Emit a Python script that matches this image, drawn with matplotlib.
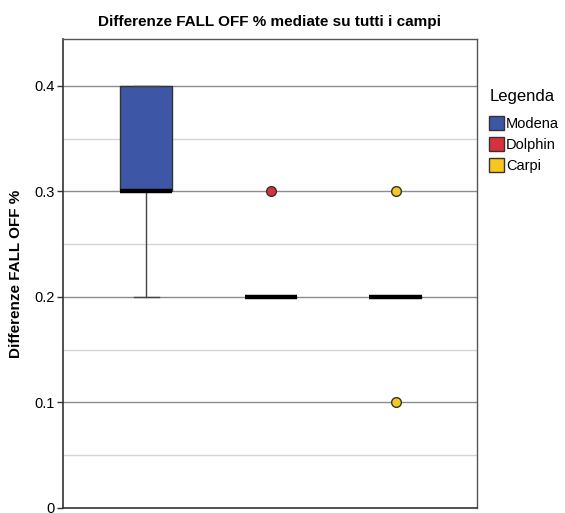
import matplotlib.pyplot as plt
from matplotlib.patches import Patch
import numpy as np

plt.rcParams['font.family'] = ['Liberation Sans', 'DejaVu Sans']

# --- Data ---
groups = ['Modena', 'Dolphin', 'Carpi']
modena = [0.2, 0.3, 0.3, 0.3, 0.4, 0.4, 0.4]
dolphin = [0.2, 0.2, 0.2, 0.2, 0.2, 0.3]
carpi = [0.1, 0.2, 0.2, 0.2, 0.2, 0.3]
colors = ['#3D56A6', '#D8303D', '#F7C71F']
y_ticks = [0, 0.1, 0.2, 0.3, 0.4]
y_tick_labels = ['0', '0.1', '0.2', '0.3', '0.4']

fig = plt.figure(figsize=(5.65, 5.13), dpi=100)
ax = fig.add_axes([0.1115, 0.0098, 0.7325, 0.9142])

# grid lines
for v in np.arange(0.05, 0.45, 0.1):
    ax.axhline(v, color='#d4d4d4', lw=1, zorder=0)
for v in y_ticks[1:]:
    ax.axhline(v, color='#8c8c8c', lw=1, zorder=0)

data = [modena, dolphin, carpi]
for i, (vals, c) in enumerate(zip(data, colors)):
    ax.boxplot([vals], positions=[i + 1], widths=0.42, patch_artist=True,
               boxprops=dict(facecolor=c, edgecolor='#333333', lw=1),
               medianprops=dict(color='black', lw=3.2, solid_capstyle='butt'),
               whiskerprops=dict(color='#444444', lw=1),
               capprops=dict(color='#444444', lw=1),
               capwidths=0.2,
               flierprops=dict(marker='o', markerfacecolor=c, markeredgecolor='#333333',
                               markersize=7, markeredgewidth=1),
               zorder=3)

ax.set_xlim(0.335, 3.65)
ax.set_ylim(0, 0.4445)
ax.set_xticks([])
ax.set_yticks(y_ticks)
ax.set_yticklabels(y_tick_labels, fontsize=10.5)
ax.tick_params(axis='y', length=4, width=1, color='#333333', pad=2)
for s in ['left', 'bottom']:
    ax.spines[s].set_color('#333333')
    ax.spines[s].set_linewidth(1.2)
for s in ['top', 'right']:
    ax.spines[s].set_color('#555555')
    ax.spines[s].set_linewidth(1)

ax.set_ylabel('Differenze FALL OFF %', fontsize=11, fontweight='bold', labelpad=8)
ax.set_title('Differenze FALL OFF % mediate su tutti i campi', fontsize=11,
             fontweight='bold', pad=9)

# legend (title drawn separately to match the spacing)
fig.text(0.867, 1 - 97 / 513, 'Legenda', fontsize=12, va='center', ha='left')
handles = [Patch(facecolor=c, edgecolor='#333333', label=g) for g, c in zip(groups, colors)]
leg = fig.legend(handles=handles, loc='upper left',
                 bbox_to_anchor=(0.866, 1 - 116 / 513), frameon=False, fontsize=10.5,
                 handlelength=1.0, handleheight=1.1,
                 handletextpad=0.15, labelspacing=0.4, borderpad=0,
                 borderaxespad=0)

fig.savefig('out.png', dpi=100)
